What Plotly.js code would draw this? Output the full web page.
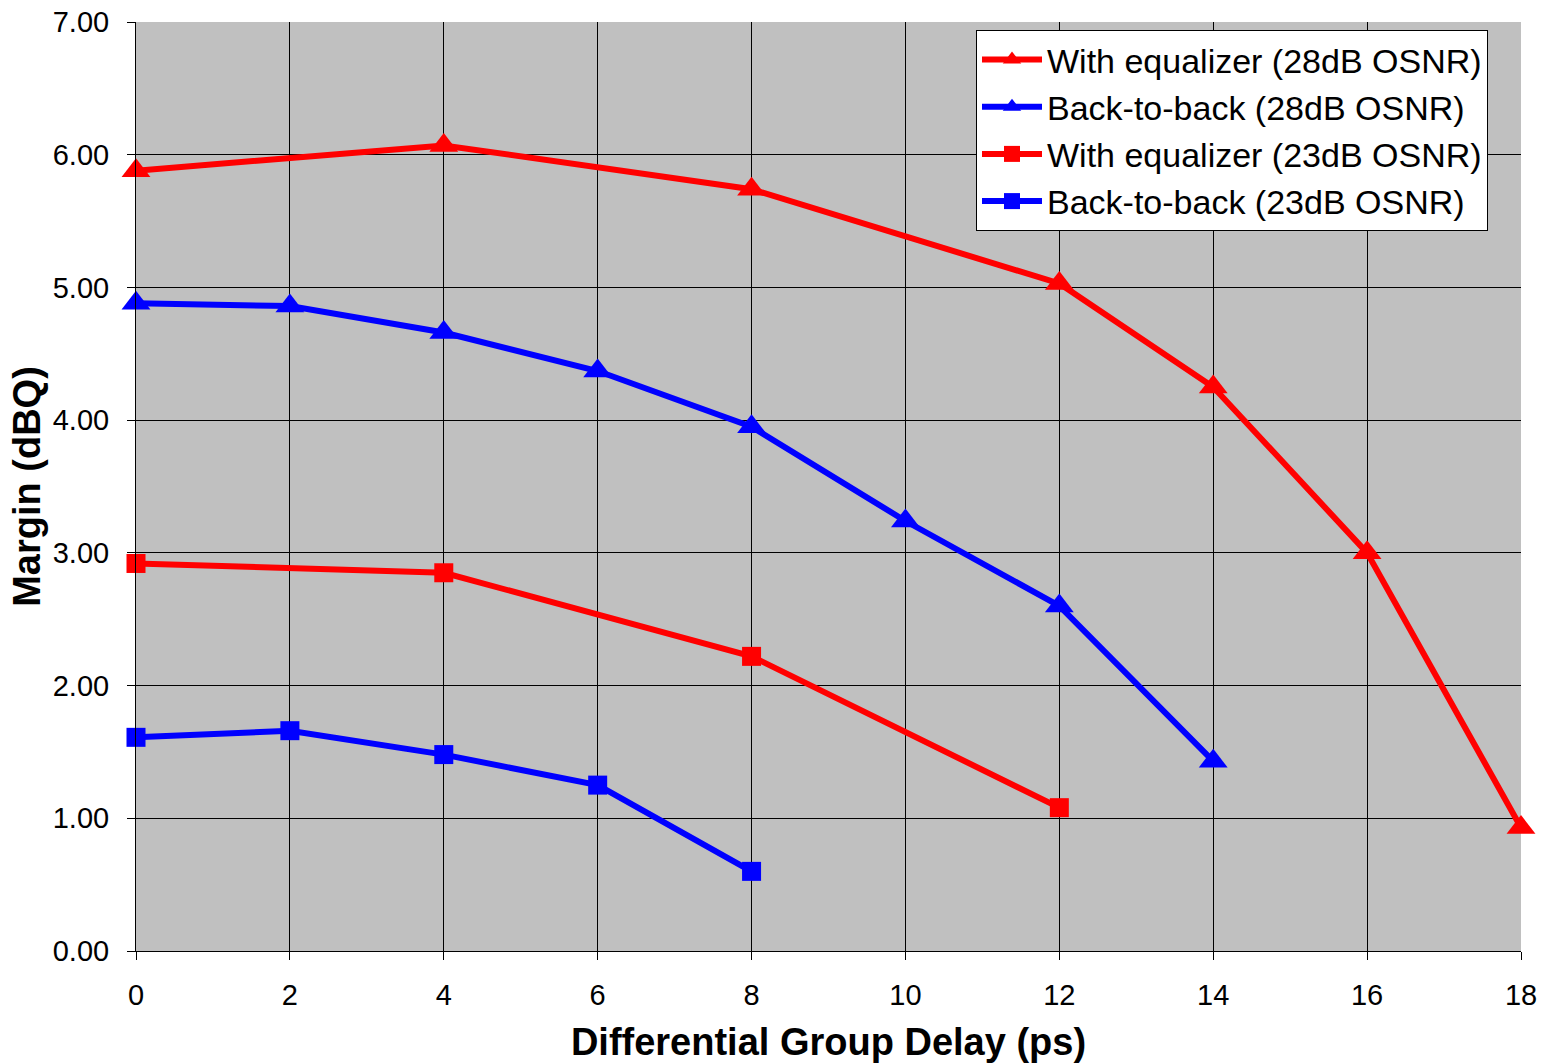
<!DOCTYPE html>
<html>
<head>
<meta charset="utf-8">
<script src="https://cdn.plot.ly/plotly-3.0.1.min.js"></script>
<style>html,body{margin:0;padding:0;background:#fff;}#chart{width:1543px;height:1064px;}</style>
</head>
<body>
<div id="chart"></div>
<script>
const xEq28 = [0, 4, 8, 12, 14, 16, 18];
const yEq28 = [5.88, 6.07, 5.74, 5.03, 4.25, 3.00, 0.93];
const xB2b28 = [0, 2, 4, 6, 8, 10, 12, 14];
const yB2b28 = [4.88, 4.86, 4.66, 4.37, 3.95, 3.24, 2.60, 1.43];
const xEq23 = [0, 4, 8, 12];
const yEq23 = [2.92, 2.85, 2.22, 1.08];
const xB2b23 = [0, 2, 4, 6, 8];
const yB2b23 = [1.61, 1.66, 1.48, 1.25, 0.60];
const xTicks = [0, 2, 4, 6, 8, 10, 12, 14, 16, 18];
const yTicks = [0, 1, 2, 3, 4, 5, 6, 7];
const yTickText = ["0.00", "1.00", "2.00", "3.00", "4.00", "5.00", "6.00", "7.00"];

function tr(x, y, name, color, symbol, size) {
  return {x: x, y: y, name: name, type: 'scatter', mode: 'lines+markers',
    line: {color: color, width: 6}, marker: {color: color, symbol: symbol, size: size},
    cliponaxis: false};
}
const data = [
  tr(xEq28, yEq28, 'With equalizer (28dB OSNR)', '#ff0000', 'triangle-up', 25),
  tr(xB2b28, yB2b28, 'Back-to-back (28dB OSNR)', '#0000ff', 'triangle-up', 25),
  tr(xEq23, yEq23, 'With equalizer (23dB OSNR)', '#ff0000', 'square', 19),
  tr(xB2b23, yB2b23, 'Back-to-back (23dB OSNR)', '#0000ff', 'square', 19)
];
const ff = '"Liberation Sans", Arial, sans-serif';
const layout = {
  width: 1543, height: 1064,
  margin: {l: 136, r: 22, t: 22, b: 113},
  paper_bgcolor: '#ffffff', plot_bgcolor: '#c0c0c0',
  font: {family: ff, color: '#000'},
  showlegend: true,
  legend: {x: 0.6065, y: 0.9915, xanchor: 'left', yanchor: 'top', bgcolor: '#ffffff',
    bordercolor: '#000', borderwidth: 1, font: {size: 34, family: ff, color: '#000'},
    tracegroupgap: 0, itemwidth: 60},
  xaxis: {range: [0, 18], tickvals: xTicks, ticktext: xTicks.map(String),
    showgrid: true, gridcolor: '#000', gridwidth: 1, zeroline: false,
    showline: true, linecolor: '#000', linewidth: 1,
    ticks: 'outside', ticklen: 8, tickcolor: '#000', ticklabelstandoff: 10,
    tickfont: {size: 29, family: ff, color: '#000'},
    title: {text: '<b>Differential Group Delay (ps)</b>', font: {size: 38, family: ff, color: '#000'}, standoff: 18}},
  yaxis: {range: [0, 7], tickvals: yTicks, ticktext: yTickText,
    showgrid: true, gridcolor: '#000', gridwidth: 1, zeroline: false,
    showline: true, linecolor: '#000', linewidth: 1,
    ticks: 'outside', ticklen: 8, tickcolor: '#000', ticklabelstandoff: 12,
    tickfont: {size: 29, family: ff, color: '#000'},
    title: {text: '<b>Margin (dBQ)</b>', font: {size: 38, family: ff, color: '#000'}, standoff: 0}}
};
Plotly.newPlot('chart', data, layout, {displayModeBar: false, staticPlot: true});
</script>
</body>
</html>
